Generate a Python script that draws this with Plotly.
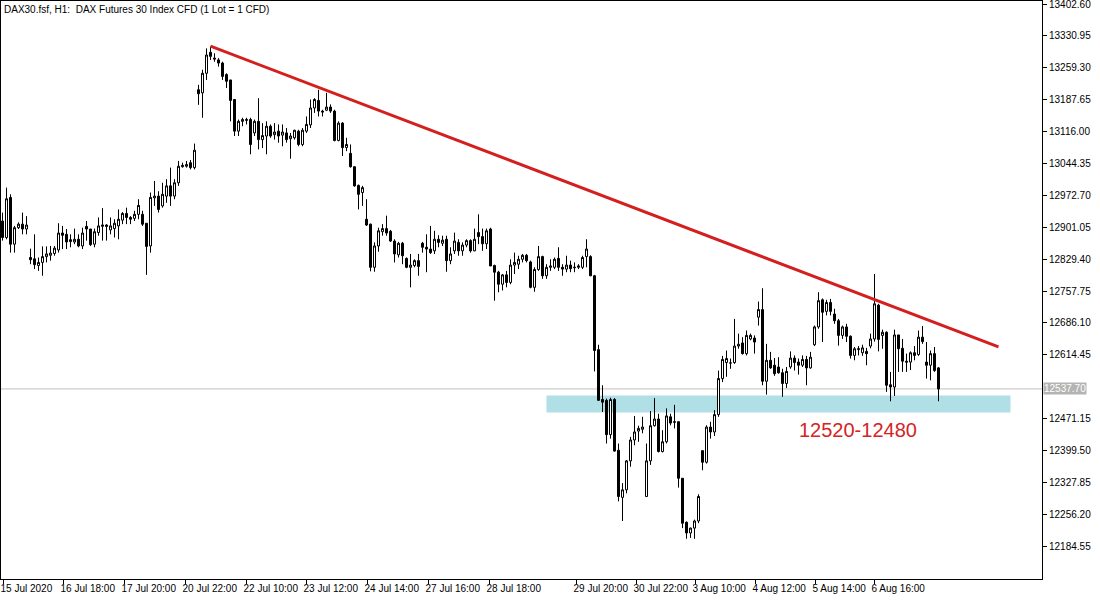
import plotly.graph_objects as go

# ---- DATA (hourly bars, DAX30 CFD) ----
opens = [12915,12878,12968,12863,12900,12908,12897,12833,12830,12815,12822,12835,12838,12842,12850,12888,12885,12873,12868,12874,
         12859,12903,12897,12863,12889,12903,12906,12895,12898,12904,12917,12932,12923,12921,12930,12930,12910,12859,12967,12971,
         12949,12971,12994,12971,13001,13037,13038,13046,13035,13210,13203,13247,13294,13281,13277,13270,13244,13232,13188,13117,
         13139,13141,13143,13113,13139,13098,13106,13128,13109,13117,13108,13113,13100,13102,13117,13087,13117,13131,13169,13186,
         13162,13164,13171,13162,13096,13135,13080,13067,13037,12995,12979,12919,12908,12811,12859,12891,12898,12892,12870,12839,
         12865,12831,12811,12815,12826,12865,12856,12852,12848,12874,12865,12874,12826,12848,12867,12848,12861,12871,12848,12889,
         12880,12864,12897,12815,12800,12773,12794,12777,12816,12818,12829,12838,12823,12766,12806,12835,12792,12811,12811,12831,
         12811,12807,12816,12810,12811,12811,12835,12835,12792,12626,12514,12512,12435,12514,12400,12294,12311,12376,12423,12443,
         12447,12296,12376,12455,12470,12397,12419,12475,12464,12464,12337,12238,12214,12225,12241,12399,12373,12452,12441,12480,
         12561,12597,12596,12597,12634,12641,12617,12650,12652,12699,12716,12555,12602,12591,12587,12574,12550,12587,12607,12598,
         12591,12604,12585,12637,12677,12738,12712,12732,12706,12691,12658,12677,12656,12613,12626,12619,12622,12634,12650,12726,
         12658,12665,12547,12542,12659,12629,12600,12598,12619,12615,12654,12598,12591,12617,12585]
highs = [12934,12990,12975,12904,12912,12934,12926,12853,12885,12833,12858,12858,12859,12859,12910,12904,12897,12885,12898,12885,
         12900,12915,12897,12898,12923,12944,12908,12923,12919,12941,12935,12945,12926,12938,12964,12938,12910,12979,13005,12982,
         13001,13009,13035,13009,13050,13046,13050,13052,13089,13221,13255,13303,13307,13292,13281,13273,13247,13232,13188,13143,
         13147,13147,13147,13143,13191,13135,13139,13132,13135,13132,13132,13124,13113,13120,13120,13124,13150,13188,13191,13210,
         13165,13203,13177,13165,13139,13137,13102,13087,13038,12997,12994,12964,12909,12867,12900,12908,12927,12895,12874,12868,
         12868,12833,12841,12829,12841,12868,12885,12904,12893,12883,12882,12882,12856,12889,12874,12867,12874,12874,12898,12930,
         12898,12898,12900,12817,12803,12796,12803,12829,12844,12837,12841,12841,12826,12811,12859,12837,12818,12829,12833,12856,
         12818,12837,12826,12822,12818,12837,12874,12838,12794,12637,12546,12516,12518,12517,12415,12326,12378,12430,12477,12455,
         12475,12415,12488,12517,12482,12445,12494,12482,12502,12465,12337,12240,12226,12244,12301,12400,12456,12464,12490,12579,
         12612,12624,12606,12695,12662,12654,12669,12662,12658,12734,12764,12639,12621,12607,12609,12583,12587,12622,12613,12606,
         12613,12612,12621,12680,12755,12741,12738,12740,12718,12695,12680,12684,12658,12632,12634,12637,12630,12662,12796,12729,
         12671,12667,12576,12671,12659,12650,12617,12622,12634,12669,12679,12643,12624,12632,12587]
lows = [12871,12874,12844,12844,12897,12885,12885,12818,12807,12803,12792,12822,12826,12837,12844,12852,12852,12856,12863,12856,
        12852,12871,12859,12856,12882,12871,12871,12885,12878,12874,12908,12908,12908,12915,12919,12904,12794,12844,12949,12934,
        12945,12956,12949,12964,12994,13035,13035,13031,13031,13176,13147,13232,13277,13273,13262,13232,13214,13139,13106,13106,
        13128,13132,13065,13106,13076,13079,13065,13102,13098,13091,13083,13091,13055,13098,13083,13083,13113,13124,13158,13150,
        13150,13162,13158,13094,13094,13061,13072,13035,12992,12941,12949,12904,12802,12801,12846,12882,12882,12868,12822,12833,
        12818,12809,12766,12811,12792,12844,12800,12841,12841,12856,12859,12801,12818,12841,12837,12837,12856,12844,12847,12863,
        12848,12852,12814,12736,12755,12759,12766,12773,12796,12807,12822,12822,12764,12756,12803,12785,12785,12803,12807,12803,
        12792,12800,12800,12800,12807,12807,12811,12791,12577,12512,12486,12415,12426,12397,12285,12241,12303,12363,12411,12419,
        12438,12296,12367,12453,12395,12395,12415,12456,12449,12316,12225,12201,12203,12201,12236,12355,12370,12426,12432,12475,
        12553,12565,12583,12594,12628,12615,12613,12647,12617,12680,12546,12525,12583,12567,12572,12520,12540,12583,12579,12570,
        12587,12546,12583,12634,12673,12643,12703,12703,12684,12635,12650,12643,12606,12602,12613,12612,12591,12629,12644,12622,
        12628,12531,12510,12522,12576,12576,12576,12580,12602,12612,12639,12561,12557,12576,12510]
closes = [12878,12965,12863,12900,12908,12897,12906,12828,12817,12822,12835,12841,12843,12854,12888,12883,12868,12869,12874,12859,
          12888,12897,12862,12891,12904,12906,12903,12904,12910,12919,12932,12923,12919,12930,12950,12908,12858,12968,12971,12941,
          12975,12994,12971,13001,13038,13040,13042,13035,13074,13201,13247,13288,13285,13279,13270,13240,13229,13186,13117,13139,
          13143,13143,13087,13139,13098,13107,13128,13106,13115,13106,13115,13098,13106,13119,13087,13119,13132,13169,13188,13162,
          13160,13171,13162,13096,13135,13080,13087,13037,12994,12975,12990,12906,12811,12859,12893,12898,12888,12870,12841,12865,
          12837,12811,12816,12826,12813,12856,12852,12844,12874,12867,12872,12826,12841,12870,12848,12861,12871,12848,12874,12880,
          12864,12893,12814,12800,12773,12794,12777,12816,12822,12829,12838,12826,12766,12806,12835,12792,12811,12814,12829,12811,
          12807,12816,12808,12811,12814,12833,12852,12792,12624,12512,12508,12435,12514,12398,12296,12311,12376,12423,12441,12449,
          12452,12376,12455,12470,12397,12419,12477,12461,12463,12337,12236,12214,12225,12241,12296,12373,12452,12441,12480,12561,
          12604,12606,12596,12634,12638,12617,12658,12658,12643,12716,12555,12602,12585,12572,12574,12550,12577,12607,12597,12591,
          12604,12585,12609,12677,12736,12710,12732,12712,12691,12658,12677,12656,12613,12628,12628,12630,12617,12650,12729,12649,
          12665,12546,12542,12659,12628,12600,12598,12619,12613,12654,12644,12591,12617,12579,12537.7]
bars = list(range(len(closes)))

# time axis labels and the bar they sit on
time_labels = ["15 Jul 2020", "16 Jul 18:00", "17 Jul 20:00", "20 Jul 22:00", "22 Jul 10:00",
               "23 Jul 12:00", "24 Jul 14:00", "27 Jul 16:00", "28 Jul 18:00", "29 Jul 20:00",
               "30 Jul 22:00", "3 Aug 10:00", "4 Aug 12:00", "5 Aug 14:00", "6 Aug 16:00"]
time_label_bars = [0.25, 15.25, 30.5, 45.75, 61, 76, 91.25, 106.5, 121.75, 143.5, 158.5, 173.25, 188.25, 203.25, 218]

# price axis labels
price_ticks = [13402.60, 13330.95, 13259.30, 13187.65, 13116.00, 13044.35, 12972.70, 12901.05,
               12829.40, 12757.75, 12686.10, 12614.45, 12471.15, 12399.50, 12327.85, 12256.20, 12184.55]
current_price = 12537.70

# drawn objects
trend_bars = [52, 249]
trend_prices = [13308, 12632]
zone_bars = [136, 252]
zone_prices = [12485, 12523]
zone_label = "12520-12480"
zone_label_bar = 213.75
zone_label_price = 12445

title_text = "DAX30.fsf, H1:\u00a0 DAX Futures 30 Index CFD (1 Lot = 1 CFD)"

FONT = "Liberation Sans"

fig = go.Figure()
fig.add_trace(go.Candlestick(
    x=bars, open=opens, high=highs, low=lows, close=closes,
    increasing=dict(fillcolor="white", line=dict(color="black", width=1)),
    decreasing=dict(fillcolor="black", line=dict(color="black", width=1)),
    whiskerwidth=0, showlegend=False, hoverinfo="skip",
))
fig.add_trace(go.Scatter(
    x=trend_bars, y=trend_prices, mode="lines",
    line=dict(color="#d41f1f", width=3), showlegend=False, hoverinfo="skip",
))

# support zone rectangle
fig.add_shape(type="rect", xref="x", yref="y",
              x0=zone_bars[0], x1=zone_bars[1], y0=zone_prices[0], y1=zone_prices[1],
              fillcolor="#b0dfe5", line=dict(width=0), layer="below")
# current price line
fig.add_shape(type="line", xref="paper", yref="y", x0=0, x1=1,
              y0=current_price, y1=current_price,
              line=dict(color="#c0c0c0", width=1), layer="below")

fig.add_annotation(x=zone_label_bar, y=zone_label_price, xref="x", yref="y",
                   text=zone_label, showarrow=False,
                   font=dict(family=FONT, size=20, color="#d42424"),
                   xanchor="center", yanchor="middle")
fig.add_annotation(x=0, y=1, xref="paper", yref="paper", xanchor="left", yanchor="top",
                   xshift=1, yshift=-1, text=title_text, showarrow=False,
                   font=dict(family=FONT, size=10, color="black"))
fig.add_annotation(x=1, y=current_price, xref="paper", yref="y", xanchor="left", yanchor="middle",
                   xshift=1, text=f"{current_price:.2f}", showarrow=False,
                   bgcolor="#b4b4b4", borderpad=0,
                   font=dict(family=FONT, size=10, color="white"))

fig.update_layout(
    width=1100, height=600,
    margin=dict(l=1, r=58, t=1, b=21, autoexpand=False),
    paper_bgcolor="white", plot_bgcolor="white",
    font=dict(family=FONT, size=10, color="black"),
    boxgap=0.2929, boxgroupgap=0.2929,
    showlegend=False,
    xaxis=dict(
        range=[-0.375, 259.875], rangeslider=dict(visible=False),
        showgrid=False, zeroline=False, automargin=False,
        showline=True, linecolor="black", linewidth=1, mirror=True,
        ticks="outside", ticklen=4, tickcolor="black", tickwidth=1,
        tickvals=time_label_bars, ticktext=time_labels, tickangle=0,
        ticklabelposition="outside right", ticklabeloverflow="allow",
        ticklabelshift=-4,
        tickfont=dict(family=FONT, size=10, color="black"),
        fixedrange=True,
    ),
    yaxis=dict(
        range=[12110.6, 13409.4], side="right",
        showgrid=False, zeroline=False, automargin=False,
        showline=True, linecolor="black", linewidth=1, mirror=True,
        ticks="outside", ticklen=4, tickcolor="black", tickwidth=1,
        tickvals=price_ticks, ticktext=[f"{v:.2f}" for v in price_ticks],
        ticklabeloverflow="allow",
        tickfont=dict(family=FONT, size=10, color="black"),
        fixedrange=True,
    ),
)

fig.write_html("out.html", config={"displayModeBar": False, "staticPlot": True},
               post_script="document.body.style.margin='0px';document.body.style.overflow='hidden';")
